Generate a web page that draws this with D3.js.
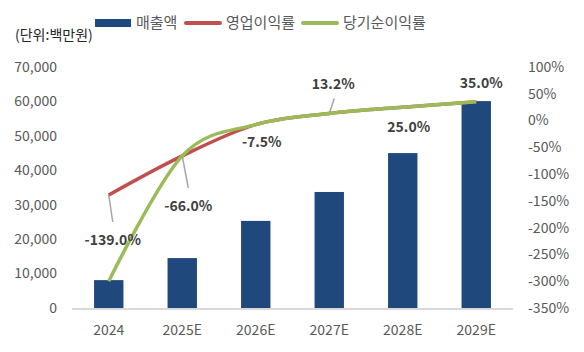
<html>
<head>
<meta charset="utf-8">
<script src="https://d3js.org/d3.v7.min.js"></script>
<style>
  body { margin: 0; background: #fff; }
  text { font-family: "Noto Sans CJK KR", "Noto Sans", sans-serif; }
</style>
</head>
<body>
<div id="chart"></div>
<script>
// data
var years = ["2024", "2025E", "2026E", "2027E", "2028E", "2029E"];
var sales = [8100, 14500, 25300, 33700, 45000, 60100];          // 매출액 (백만원)
var opMargin = [-139.0, -66.0, -7.5, 13.2, 25.0, 35.0];         // 영업이익률 (%)
var netMargin = [-300, -66.0, -7.5, 13.2, 25.0, 35.0];          // 당기순이익률 (%)
var leftTicks = [0, 10000, 20000, 30000, 40000, 50000, 60000, 70000];
var rightTicks = [-350, -300, -250, -200, -150, -100, -50, 0, 50, 100];

// label placement relative to each point (layout only)
var labelLayout = [
  {dx: 4, dy: 50, leader: [4, 27]},
  {dx: 6, dy: 55, leader: [6, 32]},
  {dx: 6, dy: 22, leader: null},
  {dx: 4, dy: -24, leader: [5, -15]},
  {dx: 6, dy: 25, leader: null},
  {dx: 5, dy: -14, leader: null}
];

var W = 584, H = 352;
var plotTop = 67, plotBottom = 308, plotLeft = 72, plotRight = 513;

var fmt = d3.formatLocale({decimal: ".", thousands: ",", grouping: [3], currency: ["", ""], minus: "-"});

var svg = d3.select("#chart").append("svg")
    .attr("width", W).attr("height", H);

var x = d3.scaleBand().domain(years).range([plotLeft, plotRight])
    .paddingInner(0.6).paddingOuter(0.3);
var yL = d3.scaleLinear().domain([0, 70000]).range([plotBottom, plotTop]);
var yR = d3.scaleLinear().domain([-350, 100]).range([plotBottom, plotTop]);

// bars
svg.selectAll("rect.bar").data(sales).enter().append("rect")
    .attr("class", "bar")
    .attr("x", function(d, i) { return x(years[i]); })
    .attr("y", function(d) { return yL(d); })
    .attr("width", x.bandwidth())
    .attr("height", function(d) { return yL(0) - yL(d); })
    .attr("fill", "#1F497D");

// category axis line
svg.append("line")
    .attr("x1", plotLeft).attr("x2", plotRight)
    .attr("y1", plotBottom + 1).attr("y2", plotBottom + 1)
    .attr("stroke", "#D9D9D9").attr("stroke-width", 2);

// left axis labels
svg.selectAll("text.yl").data(leftTicks).enter().append("text")
    .attr("class", "yl")
    .attr("x", 57).attr("y", function(d) { return yL(d); })
    .attr("dy", "0.35em")
    .attr("text-anchor", "end")
    .attr("font-size", 14).attr("fill", "#595959")
    .text(fmt.format(","));

// right axis labels
svg.selectAll("text.yr").data(rightTicks).enter().append("text")
    .attr("class", "yr")
    .attr("x", 528).attr("y", function(d) { return yR(d); })
    .attr("dy", "0.35em")
    .attr("text-anchor", "start")
    .attr("font-size", 14).attr("fill", "#595959")
    .text(function(d) { return d + "%"; });

// category labels
svg.selectAll("text.xl").data(years).enter().append("text")
    .attr("class", "xl")
    .attr("x", function(d) { return x(d) + x.bandwidth() / 2; })
    .attr("y", 335)
    .attr("text-anchor", "middle")
    .attr("font-size", 14).attr("fill", "#595959")
    .text(function(d) { return d; });

var cx = function(i) { return x(years[i]) + x.bandwidth() / 2; };

// leader lines
opMargin.forEach(function(d, i) {
  var ld = labelLayout[i].leader;
  if (!ld) return;
  svg.append("line")
    .attr("x1", cx(i)).attr("y1", yR(d))
    .attr("x2", cx(i) + ld[0]).attr("y2", yR(d) + ld[1])
    .attr("stroke", "#A6A6A6").attr("stroke-width", 1.5);
});

var line = d3.line()
    .x(function(d, i) { return cx(i); })
    .y(function(d) { return yR(d); })
    .curve(d3.curveCardinal.tension(0));

svg.append("path").datum(opMargin)
    .attr("d", line).attr("fill", "none")
    .attr("stroke", "#C0504D").attr("stroke-width", 3.5);

svg.append("path").datum(netMargin)
    .attr("d", line).attr("fill", "none")
    .attr("stroke", "#9BBB59").attr("stroke-width", 3.5);

// data labels
svg.selectAll("text.lab").data(opMargin).enter().append("text")
    .attr("class", "lab")
    .attr("x", function(d, i) { return cx(i) + labelLayout[i].dx; })
    .attr("y", function(d, i) { return yR(d) + labelLayout[i].dy; })
    .attr("text-anchor", "middle")
    .attr("font-size", 14).attr("font-weight", "bold").attr("fill", "#404040")
    .text(function(d) { return fmt.format(".1f")(d) + "%"; });

// unit
svg.append("text")
    .attr("x", 15).attr("y", 40)
    .attr("font-size", 14).attr("fill", "#262626")
    .text("(단위:백만원)");

// legend
var lg = svg.append("g").attr("font-size", 15).attr("fill", "#595959");
lg.append("rect").attr("x", 95).attr("y", 19).attr("width", 36).attr("height", 8).attr("fill", "#1F497D");
lg.append("text").attr("x", 136).attr("y", 28).text("매출액");
lg.append("line").attr("x1", 186).attr("x2", 220).attr("y1", 23).attr("y2", 23)
    .attr("stroke", "#C0504D").attr("stroke-width", 4).attr("stroke-linecap", "round");
lg.append("text").attr("x", 226).attr("y", 28).text("영업이익률");
lg.append("line").attr("x1", 303).attr("x2", 337).attr("y1", 23).attr("y2", 23)
    .attr("stroke", "#9BBB59").attr("stroke-width", 4).attr("stroke-linecap", "round");
lg.append("text").attr("x", 343).attr("y", 28).text("당기순이익률");
</script>
</body>
</html>
